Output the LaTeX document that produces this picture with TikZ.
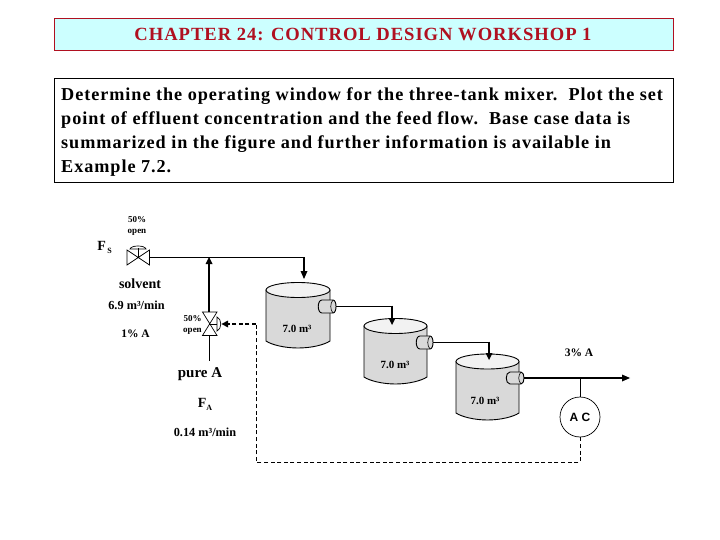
\documentclass[tikz,border=0pt]{standalone}
\usepackage{fontspec}
\setmainfont{Liberation Serif}
\newfontfamily\acfont{Liberation Sans}
\newfontfamily\spacedserif[LetterSpace=5.2]{Liberation Serif}
\definecolor{tankgray}{HTML}{D9D9D9}
\definecolor{titlered}{HTML}{B01020}
\definecolor{titlefill}{HTML}{CCFFFF}
\tikzset{
 tankbody/.style={draw=black,line width=.9pt,fill=tankgray},
 tanktop/.style={draw=black,line width=.9pt,fill=tankgray!35},
 flow/.style={line width=1pt},
 thickflow/.style={line width=1.6pt},
 signal/.style={line width=.8pt,dash pattern=on 4pt off 2.6pt},
 boldsignal/.style={line width=1.4pt,dash pattern=on 4pt off 2.6pt},
 banner/.style={line width=.8pt,anchor=north west,inner sep=0pt},
 tip/.style={fill=black,draw=none},
 lab/.style={inner sep=0pt,font=\bfseries\fontsize{9}{10}\selectfont},
 vlab/.style={inner sep=0pt,font=\bfseries\fontsize{11}{12}\selectfont},
 plab/.style={inner sep=0pt,font=\bfseries\fontsize{14}{15}\selectfont},
 qlab/.style={inner sep=0pt,font=\bfseries\fontsize{12.3}{13}\selectfont},
 pclab/.style={inner sep=0pt,font=\bfseries\fontsize{11.5}{13}\selectfont},
 valveline/.style={draw=black,line width=.7pt,fill=white}
}
\begin{document}
\begin{tikzpicture}[x=1pt,y=-1pt]
\useasboundingbox (0,0) rectangle (720,540);
\fill[white] (0,0) rectangle (720,540);
% title
\node[banner,draw=titlered,fill=titlefill,minimum width=619pt,minimum height=32pt] (titlebox) at (54,18) {};
\node[inner sep=0pt,text=titlered,font=\spacedserif\bfseries\fontsize{18.6}{20}\selectfont] (titletext) at (363,34.5) {CHAPTER 24: CONTROL DESIGN WORKSHOP 1};
% description
\node[banner,draw=black,minimum width=619pt,minimum height=104pt] (descbox) at (54,78) {};
\node[inner sep=0pt,anchor=north west,align=left,font=\spacedserif\bfseries\fontsize{18.2}{24}\selectfont] (desctext) at (61,87)
{Determine the operating window for the three-tank mixer.\ \ Plot the set\\
point of effluent concentration and the feed flow.\ \ Base case data is\\
summarized in the figure and further information is available in\\
Example 7.2.};
% tank 1
\path[tankbody] (266,290) -- (266,341) .. controls (272,345) and (285,348) .. (298,348) .. controls (311,348) and (324,345) .. (330,341) -- (330,290) -- cycle;
\draw[tanktop] (298,290) ellipse [x radius=32,y radius=7.5];
\draw[tankbody] (322,300) -- (333,300) .. controls (337,300) and (337,313) .. (333,313) -- (322,313) .. controls (317,313) and (317,300) .. (322,300) -- cycle;
\draw[line width=.6pt] (333,300) .. controls (330,303) and (330,310) .. (333,313);
\coordinate (n1) at (336,306);
% tank 2
\path[tankbody] (364,326) -- (364,377) .. controls (370,381) and (383,384) .. (395.5,384) .. controls (408,384) and (421,381) .. (427,377) -- (427,326) -- cycle;
\draw[tanktop] (395.5,326) ellipse [x radius=31.5,y radius=7.5];
\draw[tankbody] (420,336) -- (430,336) .. controls (434,336) and (434,349) .. (430,349) -- (420,349) .. controls (415,349) and (415,336) .. (420,336) -- cycle;
\draw[line width=.6pt] (430,336) .. controls (427,339) and (427,346) .. (430,349);
\coordinate (n2) at (433,342);
% tank 3
\path[tankbody] (456,361.5) -- (456,413) .. controls (462,417) and (475,420) .. (487.5,420) .. controls (500,420) and (513,417) .. (519,413) -- (519,361.5) -- cycle;
\draw[tanktop] (487.5,361.5) ellipse [x radius=31.5,y radius=7.5];
\draw[tankbody] (510,372) -- (521,372) .. controls (525,372) and (525,384) .. (521,384) -- (510,384) .. controls (505,384) and (505,372) .. (510,372) -- cycle;
\draw[line width=.6pt] (521,372) .. controls (518,375) and (518,381) .. (521,384);
\coordinate (n3) at (524,378);
% tank labels
\node[vlab] (v1) at (297,329) {7.0 m³};
\node[vlab] (v2) at (395,365) {7.0 m³};
\node[vlab] (v3) at (485,401) {7.0 m³};
% pipes tank to tank
\coordinate (in2) at (392,325);
\coordinate (in3) at (489,360);
\draw[flow] (n1) -- (392,306);
\draw[thickflow] (392,305.5) -- (392,320);
\fill[tip] (in2) -- (388.5,318) -- (395.5,318) -- cycle;
\draw[flow] (n2) -- (489,342);
\draw[thickflow] (489,341.5) -- (489,355);
\fill[tip] (in3) -- (485.5,353) -- (492.5,353) -- cycle;
% outlet
\coordinate (out) at (630,378);
\draw[thickflow] (n3) -- (624,378);
\fill[tip] (out) -- (622,374.5) -- (622,381.5) -- cycle;
% analyser
\node[draw=black,circle,line width=.7pt,minimum size=40pt,inner sep=0pt,font=\acfont\bfseries\fontsize{12}{14}\selectfont] (ac) at (580,417) {A C};
\draw[line width=.7pt] (580,378) -- (ac.north);
% top valve
\coordinate (fsv) at (138,257);
\draw[valveline] (127,250) -- (149.5,265) -- (149.5,250) -- (127,265) -- cycle;
\draw[line width=.7pt] (fsv) -- (138,248);
\draw[line width=.7pt] (130,249) .. controls (131,245) and (145,245) .. (146,249) -- cycle;
\coordinate (top2) at (305,257);
\coordinate (junc) at (209,257);
\draw[flow] (150,257) -- (top2);
\draw[thickflow] (304,257) -- (304,274);
\fill[tip] (304,279) -- (300.5,271) -- (307.5,271) -- cycle;
% feed valve
\coordinate (av) at (209.5,324);
\draw[valveline] (202.5,312) -- (217,312) -- (202.5,335.5) -- (217,335.5) -- cycle;
\draw[line width=.7pt] (av) -- (217,324);
\draw[line width=.7pt,fill=white] (217,317) .. controls (222,319) and (222,329) .. (217,331) -- cycle;
\draw[thickflow] (209,312) -- (209,263);
\fill[tip] (junc) -- (205.5,264) -- (212.5,264) -- cycle;
\draw[line width=.7pt] (209,335.5) -- (209,361);
% signal
\draw[signal] (ac.south) -- (580,462) -- (256,462) -- (256,324);
\draw[boldsignal] (256,324) -- (227,324);
\fill[tip] (221.5,324) -- (228,320.5) -- (228,327.5) -- cycle;
% labels
\node[lab] (o1) at (137,220) {50\%};
\node[lab] (o2) at (137,232) {open};
\node[plab] (fs) at (104.5,247) {F\raisebox{-3pt}{\hspace{1.5pt}\fontsize{8}{9}\selectfont S}};
\node[plab] (sv) at (140,283.5) {solvent};
\node[qlab] (fl) at (136.5,305) {6.9 m³/min};
\node[pclab] (pc) at (135.5,334) {1\% A};
\node[lab] (o3) at (192.5,318.5) {50\%};
\node[lab] (o4) at (192.5,331) {open};
\node[plab,font=\bfseries\fontsize{15}{16}\selectfont] (pa) at (200,374) {pure A};
\node[plab] (fa) at (205,404) {F\raisebox{-3pt}{\fontsize{8}{9}\selectfont A}};
\node[qlab] (ff) at (205,432) {0.14 m³/min};
\node[pclab] (pc3) at (579,352.5) {3\% A};
\end{tikzpicture}
\end{document}
